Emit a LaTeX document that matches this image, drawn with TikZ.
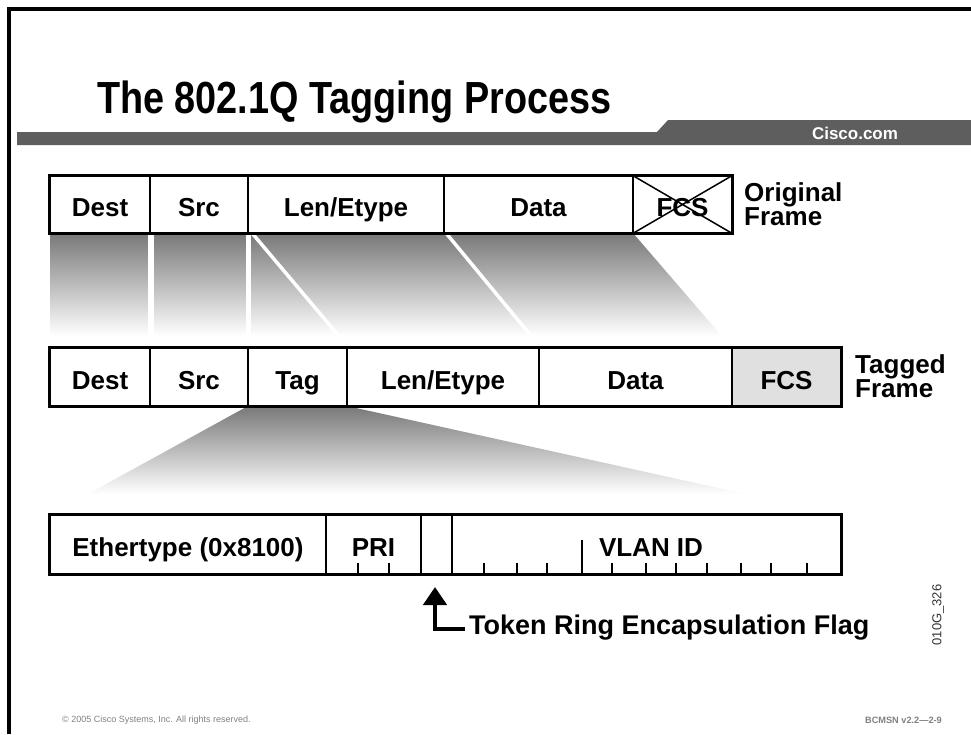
\documentclass[tikz,border=0pt]{standalone}
\usepackage{fontspec}
\setmainfont{Liberation Sans}
\newfontfamily\narrowfont{Liberation Sans}[FakeStretch=0.84]
\usetikzlibrary{arrows.meta}

\definecolor{barGray}{HTML}{5E5E5E}
\definecolor{fcsGray}{HTML}{E0E0E0}
\definecolor{shadeTop}{HTML}{787878}
\definecolor{noteGray}{HTML}{808080}

\newcommand\lab{\bfseries\fontsize{26}{24}\selectfont}

\tikzset{
  cell/.style={draw, line width=1.5pt, inner sep=0pt, font=\lab,
    text height=24pt, text depth=0pt},
  rowA/.style={cell, minimum height=57pt},
  rowB/.style={cell, minimum height=58pt},
  rowC/.style={cell, minimum height=59pt},
  outline/.style={line width=2.5pt},
  gap/.style={white},
  tick/.style={line width=1.3pt},
}

\begin{document}
\begin{tikzpicture}[x=1pt,y=-1pt]
\useasboundingbox (0,0) rectangle (971,734);

% slide frame
\draw[line width=4pt] (9,734) -- (9,9) -- (971,9);

% header bar
\fill[barGray] (17,132) -- (657,132) -- (668,120) -- (971,120) -- (971,145) -- (17,145) -- cycle;
\node[text=white, font=\bfseries\fontsize{17}{18}\selectfont, inner sep=0pt] (site) at (855,133) {Cisco.com};

% title
\node[anchor=base west, inner sep=0pt, font=\narrowfont\bfseries\fontsize{45}{50}\selectfont] (title) at (97,113) {The 802.1Q Tagging Process};

% fields moving from the original frame into the tagged frame
\shade[top color=shadeTop, bottom color=white] (50,233) -- (633,233) -- (721.7,336) -- (50,336) -- cycle;
\draw[gap, line width=6pt] (151,233) -- (151,340);
\draw[gap, line width=4.5pt] (248.5,233) -- (248.5,340);
\draw[gap, line width=3.5pt] (252,233) -- (349,348);
\draw[gap, line width=3.5pt] (446,233) -- (541,348);

% tag being expanded
\shade[top color=shadeTop, bottom color=white] (248,406) -- (347,406) -- (745.7,494) -- (88,494) -- cycle;

% original frame
\node[rowA, minimum width=100pt] (oDest) at (100,204.5) {Dest};
\node[rowA, minimum width=98pt]  (oSrc)  at (199,204.5) {Src};
\node[rowA, minimum width=196pt] (oLen)  at (346,204.5) {Len/Etype};
\node[rowA, minimum width=189pt] (oData) at (538.5,204.5) {Data};
\node[rowA, minimum width=99pt]  (oFCS)  at (682.5,204.5) {FCS};
\draw[outline] (oDest.north west) rectangle (oFCS.south east);
\draw[line width=1.5pt] (oFCS.north west) -- (oFCS.south east)
                        (oFCS.north east) -- (oFCS.south west);
\node[anchor=north west, align=left, inner sep=0pt, font=\lab] (oName) at (744,182) {Original\\Frame};

% tagged frame
\node[rowB, minimum width=100pt] (tDest) at (100,377) {Dest};
\node[rowB, minimum width=98pt]  (tSrc)  at (199,377) {Src};
\node[rowB, minimum width=99pt]  (tTag)  at (297.5,377) {Tag};
\node[rowB, minimum width=192pt] (tLen)  at (443,377) {Len/Etype};
\node[rowB, minimum width=193pt] (tData) at (635.5,377) {Data};
\node[rowB, minimum width=109pt, fill=fcsGray] (tFCS) at (786.5,377) {FCS};
\draw[outline] (tDest.north west) rectangle (tFCS.south east);
\node[anchor=north west, align=left, inner sep=0pt, font=\lab] (tName) at (855,354) {Tagged\\Frame};

% tag contents
\node[rowC, minimum width=276pt] (eth)  at (188,544.5) {Ethertype (0x8100)};
\node[rowC, minimum width=95pt]  (pri)  at (373.5,544.5) {PRI};
\node[rowC, minimum width=31pt]  (cfi)  at (436.5,544.5) {};
\node[rowC, minimum width=389pt] (vlan) at (646.5,544.5) {};
\node[inner sep=0pt, font=\lab, text height=24pt, text depth=0pt] (vlanTxt) at (651,544.5) {VLAN ID};
\draw[outline] (eth.north west) rectangle (vlan.south east);

% bit ticks
\foreach \x in {358,389} \draw[tick] (\x,574) -- (\x,563);
\foreach \x in {484,517,547,612,646,676,707,741,771,807} \draw[tick] (\x,574) -- (\x,563);
\draw[tick] (582,574) -- (582,540);

% flag pointer
\node[anchor=base west, inner sep=0pt, font=\bfseries\fontsize{27}{28}\selectfont] (trf) at (469,634) {Token Ring Encapsulation Flag};
\coordinate (elbow) at (435,629);
\coordinate (tip) at (435,587);
\draw[line width=4.5pt, -{Triangle[width=23pt,length=18pt]}]
  (trf.west |- elbow) ++(-4pt,0) -- (elbow) -- (tip);

% figure code
\node[rotate=90, inner sep=0pt, text=black!80, font=\fontsize{13}{14}\selectfont] (code) at (938,615) {010G\_326};

% footer
\node[anchor=west, inner sep=0pt, text=noteGray, font=\fontsize{9}{10}\selectfont] (copy) at (62,720) {© 2005 Cisco Systems, Inc. All rights reserved.};
\node[anchor=east, inner sep=0pt, text=noteGray, font=\bfseries\fontsize{9.2}{10}\selectfont] (ver) at (942,720) {BCMSN v2.2—2-9};
\end{tikzpicture}
\end{document}
